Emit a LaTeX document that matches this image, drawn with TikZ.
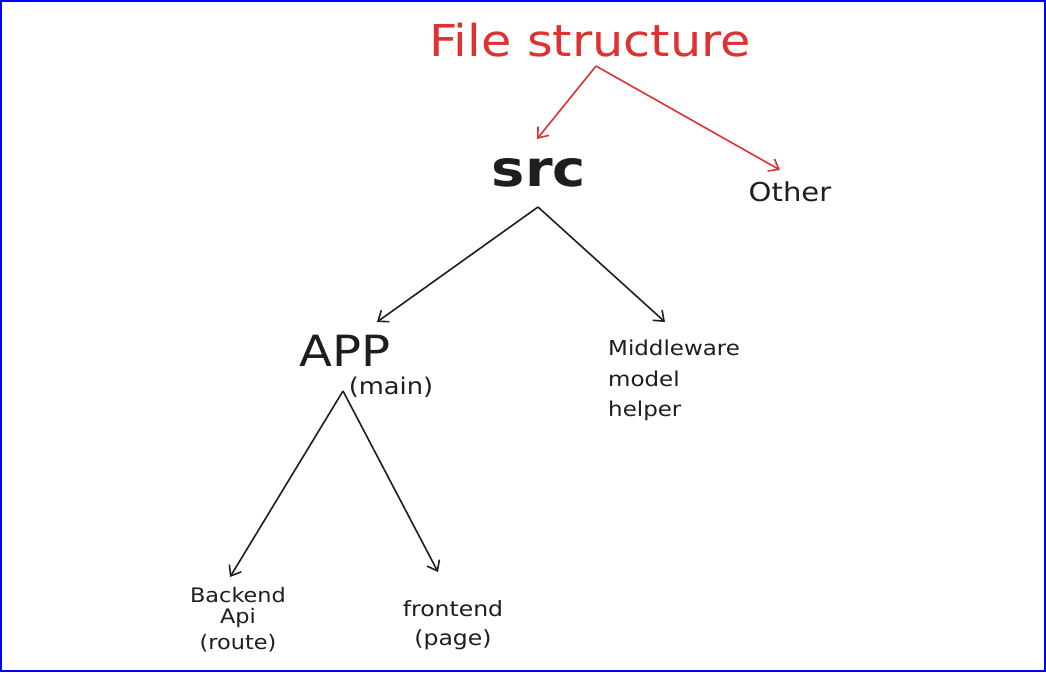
\documentclass[tikz,border=0pt]{standalone}
\usepackage{fontspec}
\setmainfont[FakeStretch=1.12]{DejaVu Sans}
\usetikzlibrary{arrows.meta}
\definecolor{xred}{HTML}{E03131}
\definecolor{xblack}{HTML}{1E1E1E}
\tikzset{
  conn/.style={line width=1.6pt, -{Straight Barb[length=9pt,width=14pt,line width=1.6pt]}},
  lbl/.style={inner sep=0pt, text=xblack},
}
\begin{document}
\begin{tikzpicture}[x=1pt,y=-1pt]
\useasboundingbox (0,0) rectangle (1046,672);
\fill[white] (0,0) rectangle (1046,672);
\draw[blue, line width=2pt] (1,1) rectangle (1044.5,670.5);

\node[lbl, text=xred, font=\fontsize{44}{48}\selectfont] (title) at (590,40) {File structure};
\node[lbl, font=\fontsize{50}{54}\selectfont\bfseries] (src) at (539,173) {src};
\node[lbl, font=\fontsize{26}{28}\selectfont] (other) at (790,192) {Other};
\node[lbl, font=\fontsize{43}{46}\selectfont] (app) at (345,351) {APP};
\node[lbl, font=\fontsize{23}{26}\selectfont] (main) at (391,387) {(main)};
\node[lbl, font=\fontsize{20.5}{30.5}\selectfont, align=left, anchor=north west] (mid) at (608,340) {Middleware\\model\\helper};
\node[lbl, font=\fontsize{20}{26}\selectfont, align=center, anchor=north] (back) at (238,587) {Backend\\[-5pt]Api\\(route)};
\node[lbl, font=\fontsize{21}{29}\selectfont, align=center, anchor=north] (front) at (453,600) {frontend\\(page)};

\coordinate (t0) at (596,66);
\coordinate (s0) at (538,207);
\coordinate (a0) at (343,391);

\draw[conn, xred] (t0) -- (537,139);
\draw[conn, xred] (t0) -- (780,170);
\draw[conn, xblack] (s0) -- (377,322);
\draw[conn, xblack] (s0) -- (665,322);
\draw[conn, xblack] (a0) -- (230,577);
\draw[conn, xblack] (a0) -- (438,572);
\end{tikzpicture}
\end{document}
